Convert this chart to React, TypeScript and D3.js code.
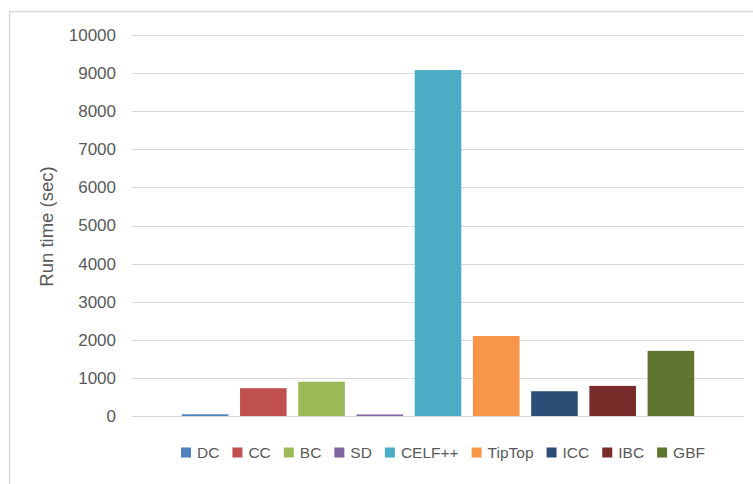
import React, { useMemo } from "react";
import * as d3 from "d3";

const seriesNames = ["DC", "CC", "BC", "SD", "CELF++", "TipTop", "ICC", "IBC", "GBF"];
const runTimes = [45, 730, 900, 40, 9080, 2100, 650, 790, 1710];
const seriesColors = ["#4F81BD", "#C0504D", "#9BBB59", "#8064A2", "#4BACC6", "#F79646", "#2C4D75", "#772C2A", "#5F7530"];
const yTicks = [0, 1000, 2000, 3000, 4000, 5000, 6000, 7000, 8000, 9000, 10000];
const yTitle = "Run time (sec)";

const W = 753;
const H = 484;
const plotLeft = 132;
const plotRight = 744;
const plotTop = 35;
const plotBottom = 416;
const FONT = "'Liberation Sans', Arial, sans-serif";
const textColor = "#595959";

export default function App() {
  const y = d3.scaleLinear().domain([0, 10000]).range([plotBottom, plotTop]);
  const clusterPad = 44;
  const x = d3
    .scaleBand<string>()
    .domain(seriesNames)
    .range([plotLeft + clusterPad, plotRight - clusterPad])
    .paddingInner(0.2)
    .paddingOuter(0.1);

  const legendFontSize = 15.5;
  const legend = useMemo(() => {
    const canvas = document.createElement("canvas");
    const ctx = canvas.getContext("2d")!;
    ctx.font = `${legendFontSize}px 'Liberation Sans', Arial, sans-serif`;
    const sq = 10;
    const gapText = 6;
    const gapItem = 13;
    const items = seriesNames.map((n) => ({ name: n, w: ctx.measureText(n).width }));
    const total = items.reduce((s, it) => s + sq + gapText + it.w, 0) + gapItem * (items.length - 1);
    let cx = 443 - total / 2;
    return items.map((it, i) => {
      const r = { ...it, x: cx, color: seriesColors[i] };
      cx += sq + gapText + it.w + gapItem;
      return r;
    });
  }, []);

  return (
    <svg
      width={W}
      height={H}
      style={{ position: "absolute", left: 0, top: 0, background: "#fff" }}
      fontFamily={FONT}
    >
      <rect x={9.5} y={11.5} width={760} height={500} fill="#fff" stroke="#d9d9d9" strokeWidth={1.5} />
      {yTicks.map((t) => (
        <g key={t}>
          <line
            x1={plotLeft}
            x2={plotRight}
            y1={Math.round(y(t)) + 0.5}
            y2={Math.round(y(t)) + 0.5}
            stroke="#d9d9d9"
            strokeWidth={1}
          />
          <text
            x={116}
            y={y(t)}
            dy="0.35em"
            textAnchor="end"
            fontSize={17}
            fill={textColor}
          >
            {t}
          </text>
        </g>
      ))}
      <text
        transform={`translate(53,${(plotTop + plotBottom) / 2 + 1}) rotate(-90)`}
        textAnchor="middle"
        fontSize={18.5}
        fill={textColor}
      >
        {yTitle}
      </text>
      {seriesNames.map((n, i) => (
        <rect
          key={n}
          x={x(n)}
          y={y(runTimes[i])}
          width={x.bandwidth()}
          height={y(0) - y(runTimes[i])}
          fill={seriesColors[i]}
        />
      ))}
      {legend.map((it) => (
        <g key={it.name}>
          <rect x={it.x} y={447.5} width={10} height={10} fill={it.color} />
          <text x={it.x + 16} y={452.5} dy="0.35em" fontSize={legendFontSize} fill={textColor}>
            {it.name}
          </text>
        </g>
      ))}
    </svg>
  );
}
